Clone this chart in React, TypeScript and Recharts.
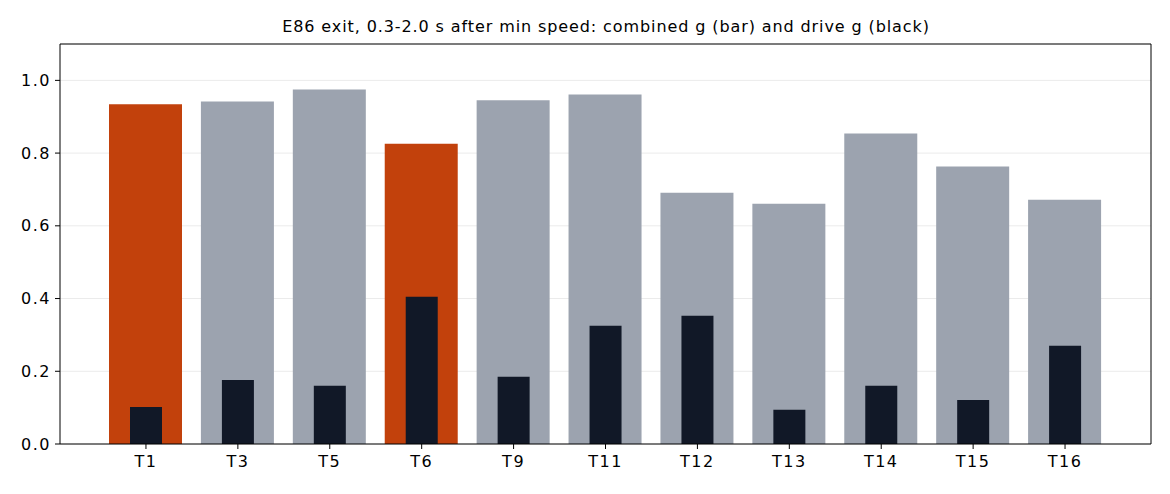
import {
  BarChart,
  Bar,
  Cell,
  XAxis,
  YAxis,
  CartesianGrid,
} from "recharts";

const trials = ["T1", "T3", "T5", "T6", "T9", "T11", "T12", "T13", "T14", "T15", "T16"];
const combinedG = [0.934, 0.942, 0.975, 0.826, 0.945, 0.961, 0.691, 0.661, 0.854, 0.763, 0.672];
const driveG = [0.102, 0.176, 0.16, 0.405, 0.185, 0.325, 0.353, 0.094, 0.16, 0.121, 0.27];
const highlighted = ["T1", "T6"];
const yTicks = [0, 0.2, 0.4, 0.6, 0.8, 1.0];

const data = trials.map((name, i) => ({
  name,
  combined: combinedG[i],
  drive: driveG[i],
}));

const font = "'DejaVu Sans', sans-serif";
const tickStyle = { fontSize: 16, fill: "#000", fontFamily: font, letterSpacing: 1.5 };

const App = () => {
  return (
    <div style={{ position: "absolute", left: 0, top: 0, width: 1170, height: 494, background: "#fff" }}>
      <div
        style={{
          position: "absolute",
          left: 60,
          width: 1092,
          top: 17,
          textAlign: "center",
          fontFamily: font,
          fontSize: 16,
          letterSpacing: 0.9,
          color: "#000",
        }}>
        E86 exit, 0.3-2.0 s after min speed: combined g (bar) and drive g (black)
      </div>
      <BarChart
        width={1170}
        height={494}
        data={data}
        margin={{ top: 43, right: 18, bottom: 20, left: 10 }}>
        <CartesianGrid vertical={false} stroke="#ebebeb" yAxisId="left" xAxisId="main" />
        <XAxis
          xAxisId="main"
          dataKey="name"
          height={30}
          padding={{ left: 40, right: 40 }}
          axisLine={{ stroke: "#000" }}
          tickLine={{ stroke: "#000" }}
          tickSize={5}
          tickMargin={7}
          tick={tickStyle}
          interval={0}
        />
        <XAxis
          xAxisId="inner"
          orientation="top"
          dataKey="name"
          height={1}
          padding={{ left: 40, right: 40 }}
          tick={false}
          tickLine={false}
          axisLine={{ stroke: "#000" }}
        />
        <YAxis
          yAxisId="left"
          width={50}
          domain={[0, 1.1]}
          ticks={yTicks}
          tickFormatter={(v: number) => v.toFixed(1)}
          axisLine={{ stroke: "#000" }}
          tickLine={{ stroke: "#000" }}
          tickSize={5}
          tickMargin={4}
          tick={tickStyle}
          allowDataOverflow
        />
        <YAxis
          yAxisId="right"
          orientation="right"
          width={1}
          domain={[0, 1.1]}
          tick={false}
          tickLine={false}
          axisLine={{ stroke: "#000" }}
        />
        <Bar
          dataKey="combined"
          xAxisId="main"
          yAxisId="left"
          barSize={73}
          isAnimationActive={false}>
          {data.map((entry) => (
            <Cell
              key={`c-${entry.name}`}
              fill={highlighted.includes(entry.name) ? "#c2410c" : "#9ca3af"}
            />
          ))}
        </Bar>
        <Bar
          dataKey="drive"
          xAxisId="inner"
          yAxisId="left"
          barSize={32}
          fill="#111827"
          isAnimationActive={false}
        />
      </BarChart>
    </div>
  );
};

export default App;
